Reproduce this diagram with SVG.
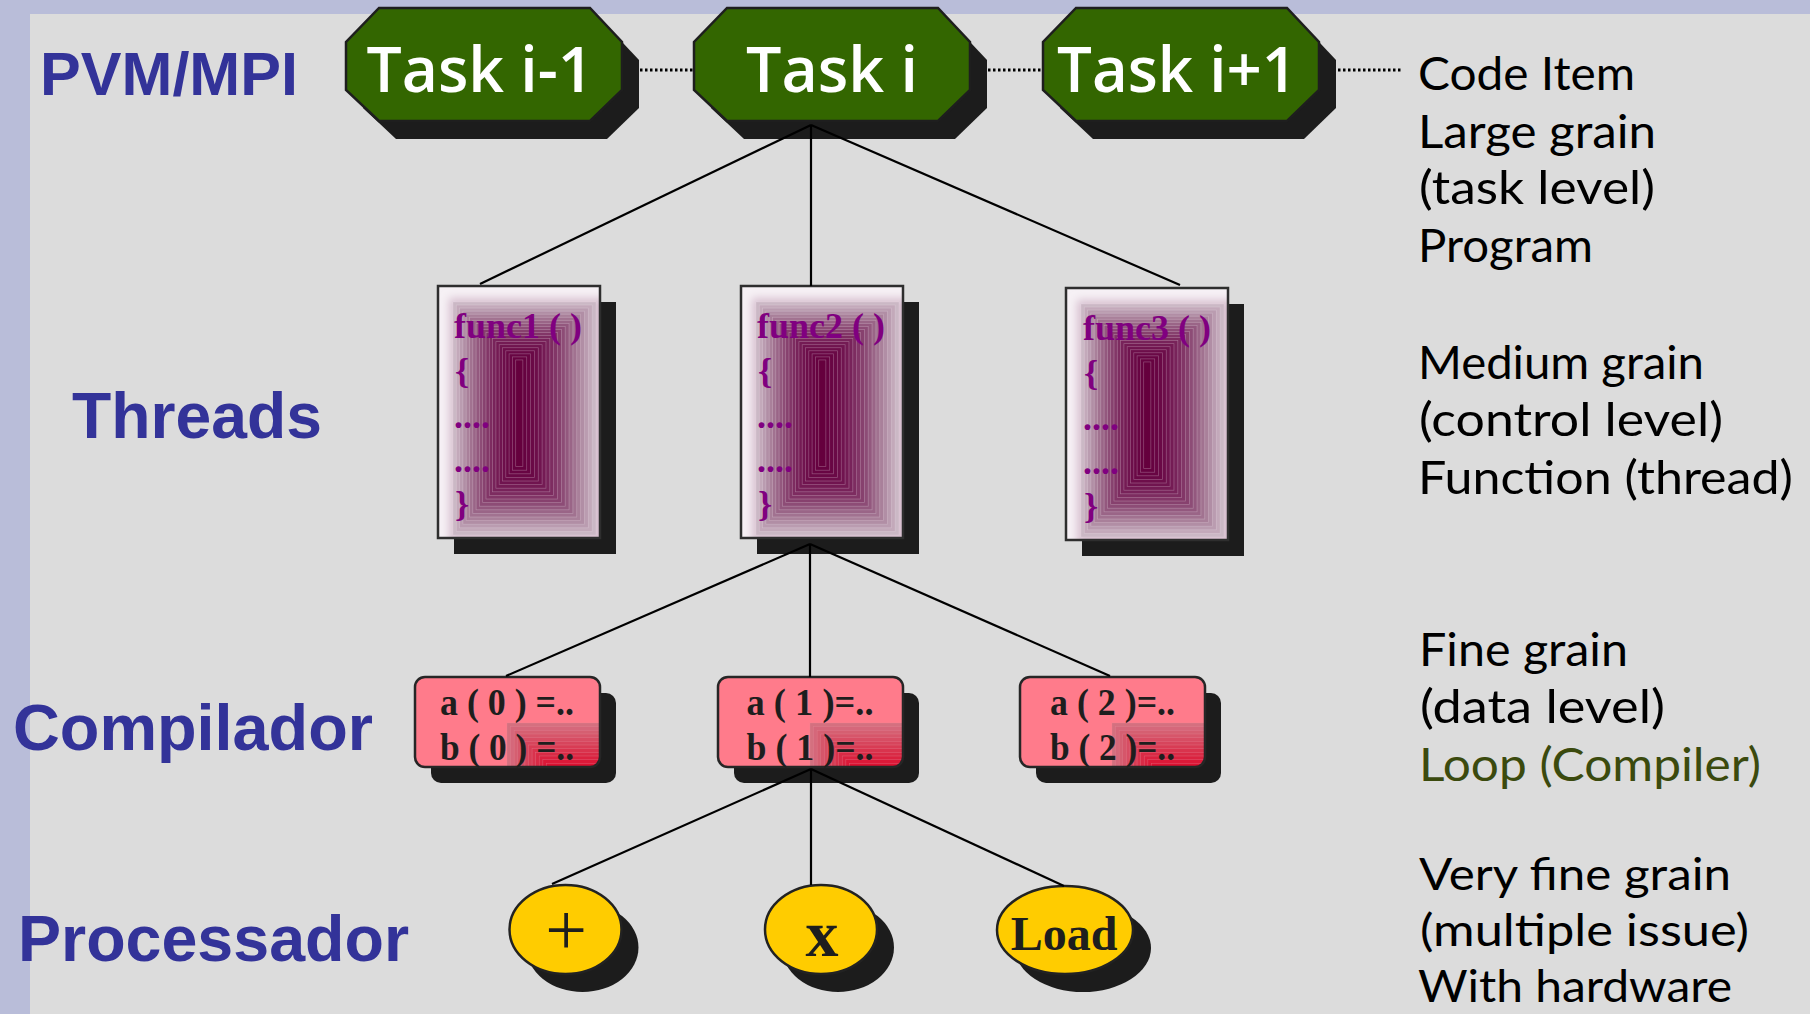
<svg xmlns="http://www.w3.org/2000/svg" xmlns:xlink="http://www.w3.org/1999/xlink" width="1810" height="1014" viewBox="0 0 1810 1014">
  <style>
    .lvl { font-family: "Liberation Sans", Arial, sans-serif; font-weight: bold; fill: #333399; }
    .task { font-family: "Open Sans", Lato, sans-serif; font-weight: 600; font-size: 64px; fill: #ffffff; text-anchor: middle; }
    .note { font-family: Lato, "Open Sans", sans-serif; font-size: 46px; fill: #000000; }
    .note.green { fill: #3b4a0e; }
    .note.tight { font-size: 45px; }
    .code { font-family: "Liberation Serif", "Times New Roman", serif; font-weight: bold; font-size: 36px; fill: #800080; }
    .stmt { font-family: "Liberation Serif", "Times New Roman", serif; font-weight: bold; font-size: 37px; fill: #1e1e1e; text-anchor: middle; }
    .opt { font-family: "Liberation Serif", "Times New Roman", serif; fill: #1e1e1e; text-anchor: middle; }
    .shadow { fill: #1c1c1c; }
    .op { fill: #ffcc00; stroke: #222222; stroke-width: 2.5; }
    .edge { stroke: #000000; stroke-width: 2.2; fill: none; }
    .dots { stroke: #000000; stroke-width: 3; stroke-dasharray: 2.5 2.5; fill: none; }
  </style>
  <defs>
    <!-- octagonal task shape -->
    <polygon id="hex" points="33,0 244,0 276,34 276,82 244,113 33,113 0,82 0,34"/>

    <filter id="soft" x="-20%" y="-20%" width="140%" height="140%">
      <feGaussianBlur stdDeviation="4"/>
    </filter>

    <clipPath id="funcClip"><rect width="162" height="252"/></clipPath>
    <clipPath id="stmtClip"><rect width="185" height="90" rx="10"/></clipPath>

    <!-- thread page: white frame with a stepped rectangular gradient -->
    <g id="funcFace">
      <rect width="162" height="252" fill="#f6f1f5"/>
      <g clip-path="url(#funcClip)">
        <rect x="11" y="12" width="160" height="250" fill="#d8c0d0" filter="url(#soft)"/>
        <g stroke="#efe2ea" stroke-width="0.7" stroke-opacity="0.35">
          <rect x="15" y="16" width="143" height="233" fill="#cbb8c5"/>
          <rect x="18.3" y="19.05" width="135.85" height="226.35" fill="#c3a9ba"/>
          <rect x="21.6" y="22.1" width="128.7" height="219.7" fill="#ba9cb0"/>
          <rect x="24.9" y="25.15" width="121.55" height="213.05" fill="#b18ea5"/>
          <rect x="28.2" y="28.2" width="114.4" height="206.4" fill="#a9809a"/>
          <rect x="31.5" y="31.25" width="107.25" height="199.75" fill="#a17290"/>
          <rect x="34.8" y="34.3" width="100.1" height="193.1" fill="#9a6587"/>
          <rect x="38.1" y="37.35" width="92.95" height="186.45" fill="#93587e"/>
          <rect x="41.4" y="40.4" width="85.8" height="179.8" fill="#8d4c76"/>
          <rect x="44.7" y="43.45" width="78.65" height="173.15" fill="#87416e"/>
          <rect x="48" y="46.5" width="71.5" height="166.5" fill="#823667"/>
          <rect x="51.3" y="49.55" width="64.35" height="159.85" fill="#7d2c60"/>
          <rect x="54.6" y="52.6" width="57.2" height="153.2" fill="#78235a"/>
          <rect x="57.9" y="55.65" width="50.05" height="146.55" fill="#741b54"/>
          <rect x="61.2" y="58.7" width="42.9" height="139.9" fill="#70144f"/>
          <rect x="64.5" y="61.75" width="35.75" height="133.25" fill="#6d0e4a"/>
          <rect x="67.8" y="64.8" width="28.6" height="126.6" fill="#6a0946"/>
          <rect x="71.1" y="67.85" width="21.45" height="119.95" fill="#680543"/>
          <rect x="74.4" y="70.9" width="14.3" height="113.3" fill="#660240"/>
          <rect x="77.7" y="73.95" width="7.15" height="106.65" fill="#65003d"/>
        </g>
      </g>
      <rect width="162" height="252" fill="none" stroke="#2e2e2e" stroke-width="2.5"/>
    </g>

    <!-- loop statement card: pink with a red corner gradient -->
    <g id="stmtFace">
      <rect width="185" height="90" rx="10" fill="#ff7b8b"/>
      <g clip-path="url(#stmtClip)" stroke="#e68a98" stroke-width="0.6" stroke-opacity="0.5">
        <rect x="92" y="46" width="93" height="44" fill="#d4707f"/>
        <rect x="95.58" y="49.67" width="89.42" height="40.33" fill="#d5677a"/>
        <rect x="99.17" y="53.33" width="85.83" height="36.67" fill="#d55f71"/>
        <rect x="102.75" y="57" width="82.25" height="33" fill="#d6566a"/>
        <rect x="106.33" y="60.67" width="78.67" height="29.33" fill="#d74d63"/>
        <rect x="109.92" y="64.33" width="75.08" height="25.67" fill="#d7455c"/>
        <rect x="113.5" y="68" width="71.5" height="22" fill="#d83c54"/>
        <rect x="117.08" y="71.67" width="67.92" height="18.33" fill="#d9334d"/>
        <rect x="120.67" y="75.33" width="64.33" height="14.67" fill="#d92b46"/>
        <rect x="124.25" y="79" width="60.75" height="11" fill="#da223f"/>
        <rect x="127.83" y="82.67" width="57.17" height="7.33" fill="#db1938"/>
        <rect x="131.42" y="86.33" width="53.58" height="3.67" fill="#db1131"/>
      </g>
      <rect width="185" height="90" rx="10" fill="none" stroke="#262626" stroke-width="2.5"/>
    </g>
  </defs>

  <!-- page background -->
  <rect width="1810" height="1014" fill="#b9bdd9"/>
  <rect x="30" y="14" width="1780" height="1000" fill="#dcdcdc"/>

  <!-- level labels -->
  <g id="levels">
    <text class="lvl" x="40" y="95" font-size="62" textLength="258" lengthAdjust="spacingAndGlyphs">PVM/MPI</text>
    <text class="lvl" x="72" y="438" font-size="64" textLength="250" lengthAdjust="spacingAndGlyphs">Threads</text>
    <text class="lvl" x="13" y="750" font-size="65" textLength="360" lengthAdjust="spacingAndGlyphs">Compilador</text>
    <text class="lvl" x="18" y="961" font-size="65" textLength="391" lengthAdjust="spacingAndGlyphs">Processador</text>
  </g>

  <!-- tasks -->
  <g id="task-i-minus-1" transform="translate(346,8)">
    <use xlink:href="#hex" x="17" y="18" class="shadow"/>
    <use xlink:href="#hex" fill="#336600" stroke="#1e1e1e" stroke-width="2.5"/>
    <text class="task" x="134" y="84" textLength="227" lengthAdjust="spacingAndGlyphs">Task i-1</text>
  </g>
  <g id="task-i" transform="translate(694,8)">
    <use xlink:href="#hex" x="17" y="18" class="shadow"/>
    <use xlink:href="#hex" fill="#336600" stroke="#1e1e1e" stroke-width="2.5"/>
    <text class="task" x="138" y="84" textLength="172" lengthAdjust="spacingAndGlyphs">Task i</text>
  </g>
  <g id="task-i-plus-1" transform="translate(1043,8)">
    <use xlink:href="#hex" x="17" y="18" class="shadow"/>
    <use xlink:href="#hex" fill="#336600" stroke="#1e1e1e" stroke-width="2.5"/>
    <text class="task" x="134" y="84" textLength="240" lengthAdjust="spacingAndGlyphs">Task i+1</text>
  </g>

  <!-- threads -->
  <g id="func1" transform="translate(438,286)">
    <rect class="shadow" x="16" y="16" width="162" height="252"/>
    <use xlink:href="#funcFace"/>
    <text class="code" x="16" y="52">func1 ( )</text>
    <text class="code" x="17" y="97">{</text>
    <text class="code" x="16" y="142">....</text>
    <text class="code" x="16" y="186">....</text>
    <text class="code" x="17" y="230">}</text>
  </g>
  <g id="func2" transform="translate(741,286)">
    <rect class="shadow" x="16" y="16" width="162" height="252"/>
    <use xlink:href="#funcFace"/>
    <text class="code" x="16" y="52">func2 ( )</text>
    <text class="code" x="17" y="97">{</text>
    <text class="code" x="16" y="142">....</text>
    <text class="code" x="16" y="186">....</text>
    <text class="code" x="17" y="230">}</text>
  </g>
  <g id="func3" transform="translate(1066,288)">
    <rect class="shadow" x="16" y="16" width="162" height="252"/>
    <use xlink:href="#funcFace"/>
    <text class="code" x="17" y="52">func3 ( )</text>
    <text class="code" x="18" y="97">{</text>
    <text class="code" x="17" y="142">....</text>
    <text class="code" x="17" y="186">....</text>
    <text class="code" x="18" y="230">}</text>
  </g>

  <!-- loop statements -->
  <g id="stmt0" transform="translate(415,677)">
    <rect class="shadow" x="16" y="16" width="185" height="90" rx="10"/>
    <use xlink:href="#stmtFace"/>
    <text class="stmt" x="92" y="38" textLength="134" lengthAdjust="spacingAndGlyphs">a ( 0 ) =..</text>
    <text class="stmt" x="92" y="83" textLength="134" lengthAdjust="spacingAndGlyphs">b ( 0 ) =..</text>
  </g>
  <g id="stmt1" transform="translate(718,677)">
    <rect class="shadow" x="16" y="16" width="185" height="90" rx="10"/>
    <use xlink:href="#stmtFace"/>
    <text class="stmt" x="92" y="38" textLength="127" lengthAdjust="spacingAndGlyphs">a ( 1 )=..</text>
    <text class="stmt" x="92" y="83" textLength="127" lengthAdjust="spacingAndGlyphs">b ( 1 )=..</text>
  </g>
  <g id="stmt2" transform="translate(1020,677)">
    <rect class="shadow" x="16" y="16" width="185" height="90" rx="10"/>
    <use xlink:href="#stmtFace"/>
    <text class="stmt" x="92.5" y="38" textLength="125" lengthAdjust="spacingAndGlyphs">a ( 2 )=..</text>
    <text class="stmt" x="92.5" y="83" textLength="125" lengthAdjust="spacingAndGlyphs">b ( 2 )=..</text>
  </g>

  <!-- processor operations -->
  <g id="op-add">
    <ellipse class="shadow" cx="582.5" cy="947.5" rx="56" ry="44.5"/>
    <ellipse class="op" cx="565.5" cy="929.5" rx="56" ry="44.5"/>
    <text class="opt" x="566" y="955" font-size="74">+</text>
  </g>
  <g id="op-mul">
    <ellipse class="shadow" cx="838" cy="947.5" rx="56" ry="44.5"/>
    <ellipse class="op" cx="821" cy="929.5" rx="56" ry="44.5"/>
    <text class="opt" x="822" y="956" font-size="66" font-weight="bold">x</text>
  </g>
  <g id="op-load">
    <ellipse class="shadow" cx="1083" cy="948" rx="68" ry="44"/>
    <ellipse class="op" cx="1065" cy="930" rx="68" ry="44"/>
    <text class="opt" x="1064" y="950" font-size="48" font-weight="bold">Load</text>
  </g>

  <!-- connectors -->
  <g id="connectors">
    <line class="dots" x1="640" y1="70" x2="694" y2="70"/>
    <line class="dots" x1="988" y1="70" x2="1043" y2="70"/>
    <line class="dots" x1="1338" y1="70" x2="1402" y2="70"/>

    <line class="edge" x1="811" y1="125" x2="480" y2="284"/>
    <line class="edge" x1="811" y1="125" x2="811" y2="286"/>
    <line class="edge" x1="811" y1="125" x2="1180" y2="285"/>

    <line class="edge" x1="810" y1="544" x2="506" y2="676"/>
    <line class="edge" x1="810" y1="544" x2="810" y2="677"/>
    <line class="edge" x1="810" y1="544" x2="1110" y2="676"/>

    <line class="edge" x1="811" y1="769" x2="552" y2="884"/>
    <line class="edge" x1="811" y1="769" x2="811" y2="885"/>
    <line class="edge" x1="811" y1="769" x2="1064" y2="886"/>
  </g>

  <!-- grain notes -->
  <g id="notes">
    <text class="note" x="1418" y="90" textLength="217" lengthAdjust="spacingAndGlyphs">Code Item</text>
    <text class="note" x="1418" y="148" textLength="238" lengthAdjust="spacingAndGlyphs">Large grain</text>
    <text class="note" x="1419" y="204" textLength="236" lengthAdjust="spacingAndGlyphs">(task level)</text>
    <text class="note" x="1418" y="262" textLength="175" lengthAdjust="spacingAndGlyphs">Program</text>

    <text class="note" x="1418" y="379" textLength="286" lengthAdjust="spacingAndGlyphs">Medium grain</text>
    <text class="note" x="1419" y="436" textLength="304" lengthAdjust="spacingAndGlyphs">(control level)</text>
    <text class="note" x="1418" y="494" textLength="375" lengthAdjust="spacingAndGlyphs">Function (thread)</text>

    <text class="note" x="1419" y="666" textLength="209" lengthAdjust="spacingAndGlyphs">Fine grain</text>
    <text class="note" x="1420" y="723" textLength="245" lengthAdjust="spacingAndGlyphs">(data level)</text>
    <text class="note green" x="1419" y="781" textLength="342" lengthAdjust="spacingAndGlyphs">Loop (Compiler)</text>

    <text class="note tight" x="1419" y="890" textLength="312" lengthAdjust="spacingAndGlyphs">Very fine grain</text>
    <text class="note tight" x="1420" y="946" textLength="329" lengthAdjust="spacingAndGlyphs">(multiple issue)</text>
    <text class="note tight" x="1418" y="1002" textLength="314" lengthAdjust="spacingAndGlyphs">With hardware</text>
  </g>
</svg>
